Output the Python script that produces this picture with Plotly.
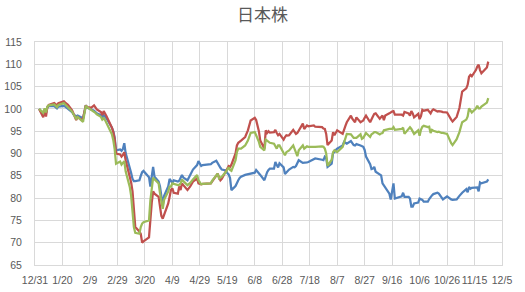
import plotly.graph_objects as go

# ---- data (2020, index = 100 at start) ----
dates_md = [
    "01-03", "01-06", "01-07", "01-08", "01-09", "01-10", "01-14", "01-16", "01-17", "01-20",
    "01-21", "01-22", "01-24", "01-27", "01-28", "01-29", "01-30", "01-31",
    "02-03", "02-04", "02-05", "02-06", "02-07", "02-10", "02-12", "02-13", "02-14", "02-17",
    "02-18", "02-19", "02-20", "02-21", "02-25", "02-26", "02-27", "02-28",
    "03-02", "03-03", "03-04", "03-05", "03-06", "03-09", "03-10", "03-11", "03-12", "03-13",
    "03-16", "03-17", "03-18", "03-19", "03-23", "03-24", "03-25", "03-26", "03-27", "03-30", "03-31",
    "04-01", "04-02", "04-03", "04-06", "04-07", "04-08", "04-09", "04-10", "04-13", "04-14",
    "04-15", "04-16", "04-17", "04-20", "04-22", "04-24", "04-27", "04-28", "04-30",
    "05-01", "05-07", "05-08", "05-11", "05-12", "05-13", "05-14", "05-15", "05-18", "05-19",
    "05-20", "05-21", "05-22", "05-25", "05-26", "05-27", "05-28", "05-29",
    "06-01", "06-03", "06-05", "06-08", "06-09", "06-10", "06-11", "06-12", "06-15", "06-16",
    "06-17", "06-18", "06-19", "06-22", "06-23", "06-24", "06-25", "06-26", "06-29", "06-30",
    "07-01", "07-02", "07-03", "07-06", "07-07", "07-08", "07-09", "07-10", "07-13", "07-14",
    "07-15", "07-16", "07-17", "07-20", "07-21", "07-22", "07-27", "07-28", "07-29", "07-30", "07-31",
    "08-03", "08-04", "08-05", "08-06", "08-07", "08-11", "08-12", "08-13", "08-14", "08-17",
    "08-18", "08-19", "08-20", "08-21", "08-24", "08-25", "08-26", "08-27", "08-28", "08-31",
    "09-01", "09-02", "09-03", "09-04", "09-07", "09-08", "09-09", "09-10", "09-11", "09-14",
    "09-15", "09-16", "09-17", "09-18", "09-23", "09-24", "09-25", "09-28", "09-29", "09-30",
    "10-01", "10-02", "10-05", "10-06", "10-07", "10-08", "10-09", "10-12", "10-13", "10-14",
    "10-15", "10-16", "10-19", "10-20", "10-22", "10-23", "10-26", "10-27", "10-28", "10-29", "10-30",
    "11-02", "11-04", "11-05", "11-06", "11-09", "11-10", "11-11", "11-12", "11-13", "11-16",
    "11-17", "11-18", "11-19", "11-20", "11-24", "11-25",
]

blue = [
    100.0, 98.7, 99.8, 99.1, 100.3, 100.6, 100.6, 100.1, 100.5, 100.6,
    100.7, 100.5, 100.1, 99.3, 98.8, 98.6, 98.3, 98.5,
    98.1, 97.9, 99.3, 100.8, 100.3, 99.9, 99.6, 99.3, 99.0, 98.6,
    98.1, 98.6, 98.2, 97.9, 95.8, 95.0, 93.6, 90.7,
    90.9, 90.6, 91.0, 92.3, 90.1, 87.0, 85.6, 84.3, 83.8, 83.8,
    84.0, 85.0, 85.8, 86.1, 84.7, 82.6, 84.8, 87.0, 84.8, 83.7, 82.6,
    80.5, 78.3, 80.5, 82.6, 84.3, 83.7, 83.4, 84.0, 83.7, 83.9,
    84.6, 85.2, 84.6, 84.0, 85.2, 86.4, 87.4, 88.3, 87.2,
    87.4, 87.6, 87.9, 88.4, 87.8, 87.2, 86.8, 86.4, 86.2, 85.6,
    85.3, 84.5, 81.8, 82.7, 83.6, 84.0, 84.5, 84.8,
    85.2, 85.3, 85.4, 85.7, 86.3, 86.0, 85.6, 85.2, 84.0, 85.2,
    85.8, 86.3, 86.6, 86.6, 88.1, 87.4, 86.9, 87.8, 86.9, 85.4,
    85.7, 85.9, 86.4, 87.0, 86.9, 87.2, 87.8, 88.5, 87.9, 87.9,
    87.9, 88.0, 88.1, 88.5, 88.7, 88.9, 88.6, 88.5, 89.3, 89.0, 87.0,
    87.7, 90.1, 90.3, 90.8, 91.1, 91.8, 92.6, 92.4, 92.2, 92.8,
    92.2, 91.9, 91.8, 92.1, 91.8, 91.7, 91.5, 90.8, 89.3, 87.6,
    86.5, 86.6, 87.0, 85.9, 85.4, 85.1, 83.3, 82.8, 82.5, 81.0,
    79.7, 81.8, 83.3, 79.9, 80.4, 81.2, 80.3, 80.3, 79.9, 78.1,
    78.1, 78.8, 79.0, 79.9, 79.8, 79.6, 79.2, 79.2, 79.8, 80.3,
    80.6, 80.9, 81.2, 81.0, 80.0, 79.7, 80.4, 80.1, 79.9, 79.7, 79.6,
    79.7, 80.5, 81.0, 81.2, 82.0, 81.3, 82.5, 82.1, 82.3, 82.5,
    82.4, 81.5, 83.5, 83.3, 83.7, 84.2,
]

red = [
    100.0, 98.1, 99.7, 98.3, 100.4, 100.9, 101.3, 100.8, 101.3, 101.6,
    101.7, 101.4, 100.9, 99.7, 99.0, 98.6, 97.5, 98.2,
    97.5, 97.9, 99.3, 100.8, 100.4, 100.3, 100.8, 100.3, 99.9, 99.3,
    98.6, 99.5, 98.8, 98.4, 95.8, 94.8, 93.2, 90.0,
    89.8, 89.3, 89.7, 90.3, 88.5, 85.0, 83.5, 81.5, 77.5, 73.5,
    72.5, 72.0, 70.0, 70.3, 71.2, 75.5, 79.0, 81.5, 81.0, 80.3, 77.7,
    76.0, 75.4, 76.3, 78.8, 80.3, 81.8, 82.2, 81.2, 81.0, 82.6,
    81.8, 83.3, 82.9, 81.8, 82.6, 83.7, 84.4, 83.3, 83.1,
    83.2, 83.3, 83.7, 84.9, 85.5, 84.6, 84.0, 84.3, 85.9, 86.5,
    87.2, 87.0, 87.5, 90.0, 91.8, 92.4, 92.6, 92.9,
    93.7, 95.2, 97.4, 98.0, 97.5, 96.5, 95.0, 92.9, 91.1, 95.2,
    94.6, 95.0, 94.7, 94.8, 95.3, 94.6, 94.1, 94.4, 93.1, 93.7,
    94.1, 94.0, 94.1, 95.3, 94.8, 94.4, 94.6, 95.2, 96.7, 95.5,
    96.0, 96.3, 96.1, 96.2, 96.3, 96.0, 95.9, 95.6, 95.5, 94.4, 91.9,
    92.9, 94.8, 94.1, 94.8, 95.2, 94.4, 95.5, 96.2, 97.0, 98.5,
    97.8, 97.4, 97.0, 98.1, 97.0, 97.2, 97.4, 98.0, 98.5, 97.0,
    97.8, 98.3, 98.9, 99.0, 97.8, 98.2, 98.5, 97.5, 98.5, 99.0,
    99.3, 99.4, 99.5, 98.7, 98.7, 98.5, 99.3, 99.0, 98.5, 99.5,
    99.0, 98.1, 98.9, 97.7, 98.4, 99.8, 99.6, 99.8, 99.4, 99.0,
    99.6, 99.9, 99.4, 99.5, 99.4, 99.3, 99.2, 98.6, 97.9, 97.6, 97.2,
    98.2, 100.2, 102.4, 103.9, 104.6, 105.4, 107.2, 107.6, 107.3, 108.7,
    109.5, 109.9, 108.7, 108.0, 109.3, 110.6,
]

green = [
    100.0, 99.1, 100.1, 99.2, 100.5, 100.8, 101.0, 100.4, 100.9, 101.1,
    101.3, 101.0, 100.4, 99.4, 98.8, 98.4, 97.8, 98.2,
    97.4, 97.1, 99.0, 100.7, 100.4, 99.8, 99.4, 99.1, 98.8, 98.2,
    97.6, 97.9, 97.5, 96.9, 94.3, 93.0, 91.0, 87.7,
    88.2, 87.5, 87.9, 88.3, 86.0, 82.5, 80.5, 76.8, 73.5, 72.2,
    72.0, 73.5, 74.3, 74.6, 75.0, 79.5, 82.0, 84.6, 84.2, 83.3, 81.1,
    79.5, 77.6, 79.6, 81.5, 82.6, 82.6, 83.3, 83.2, 82.9, 83.0,
    83.3, 84.2, 83.8, 82.9, 83.4, 84.2, 85.2, 84.0, 83.1,
    83.2, 83.3, 83.9, 85.2, 85.5, 84.4, 84.6, 84.8, 85.9, 86.5,
    86.9, 86.3, 86.1, 88.5, 90.3, 91.1, 91.1, 91.1,
    91.8, 92.9, 94.6, 94.8, 94.1, 93.5, 92.6, 91.5, 90.7, 93.1,
    92.8, 92.6, 92.4, 92.2, 91.5, 91.1, 91.8, 91.8, 90.1, 89.6,
    90.3, 90.5, 90.7, 91.8, 91.1, 90.2, 89.4, 90.7, 91.8, 91.1,
    91.4, 91.6, 91.5, 91.6, 91.6, 91.5, 91.6, 91.5, 91.1, 90.0, 87.2,
    88.6, 90.3, 90.7, 90.5, 90.3, 91.5, 92.6, 93.5, 94.4, 94.3,
    93.9, 93.5, 93.5, 93.5, 94.3, 93.3, 93.5, 94.0, 94.6, 93.7,
    94.3, 94.5, 94.8, 94.8, 94.3, 94.5, 94.6, 95.2, 95.3, 95.5,
    95.5, 95.5, 95.9, 95.3, 95.5, 95.8, 94.4, 95.5, 95.9, 95.5,
    95.0, 94.4, 95.2, 94.0, 95.3, 96.0, 96.2, 95.9, 96.0, 94.6,
    95.3, 95.1, 94.8, 94.9, 94.6, 94.6, 94.4, 93.7, 92.8, 92.3, 91.9,
    93.2, 94.8, 95.9, 97.0, 97.6, 98.3, 100.1, 99.7, 99.2, 100.1,
    100.7, 100.1, 100.1, 100.5, 101.4, 102.4,
]

tick_dates = ["2019-12-31", "2020-01-20", "2020-02-09", "2020-02-29", "2020-03-20",
              "2020-04-09", "2020-04-29", "2020-05-19", "2020-06-08", "2020-06-28",
              "2020-07-18", "2020-08-07", "2020-08-27", "2020-09-16", "2020-10-06",
              "2020-10-26", "2020-11-15", "2020-12-05"]
tick_labels = ["12/31", "1/20", "2/9", "2/29", "3/20", "4/9", "4/29", "5/19", "6/8",
               "6/28", "7/18", "8/7", "8/27", "9/16", "10/6", "10/26", "11/15", "12/5"]

dates = ["2020-" + d for d in dates_md]

fig = go.Figure()
for vals, col in [(blue, "#4F81BD"), (red, "#C0504D"), (green, "#9BBB59")]:
    fig.add_trace(go.Scatter(x=dates, y=vals, mode="lines",
                             line=dict(color=col, width=2.25), hoverinfo="skip"))

grid = "#D9D9D9"
tickfont = dict(family="Liberation Sans, Arial, sans-serif", size=10.5, color="#595959")

fig.update_layout(
    width=525, height=292,
    margin=dict(l=35, r=23, t=42, b=27),
    paper_bgcolor="white", plot_bgcolor="white",
    showlegend=False,
    title=dict(text="日本株", x=0.5, xanchor="center", y=1 - 15 / 292, yanchor="middle",
               font=dict(family="Noto Sans CJK JP", size=17, color="#595959")),
    xaxis=dict(type="date", range=["2019-12-31", "2020-12-05"],
               tickmode="array", tickvals=tick_dates, ticktext=tick_labels,
               tickangle=0, automargin=False, ticklabelstandoff=5,
               showgrid=True, gridcolor=grid, gridwidth=1,
               showline=True, linecolor=grid, linewidth=1, mirror=True,
               zeroline=False, ticks="", tickfont=tickfont),
    yaxis=dict(range=[65, 115], dtick=5, tick0=65, automargin=False,
               showgrid=True, gridcolor=grid, gridwidth=1,
               showline=True, linecolor=grid, linewidth=1, mirror=True,
               zeroline=False, ticks="", tickfont=tickfont, ticklabelstandoff=10),
)

fig.write_html("out.html")
